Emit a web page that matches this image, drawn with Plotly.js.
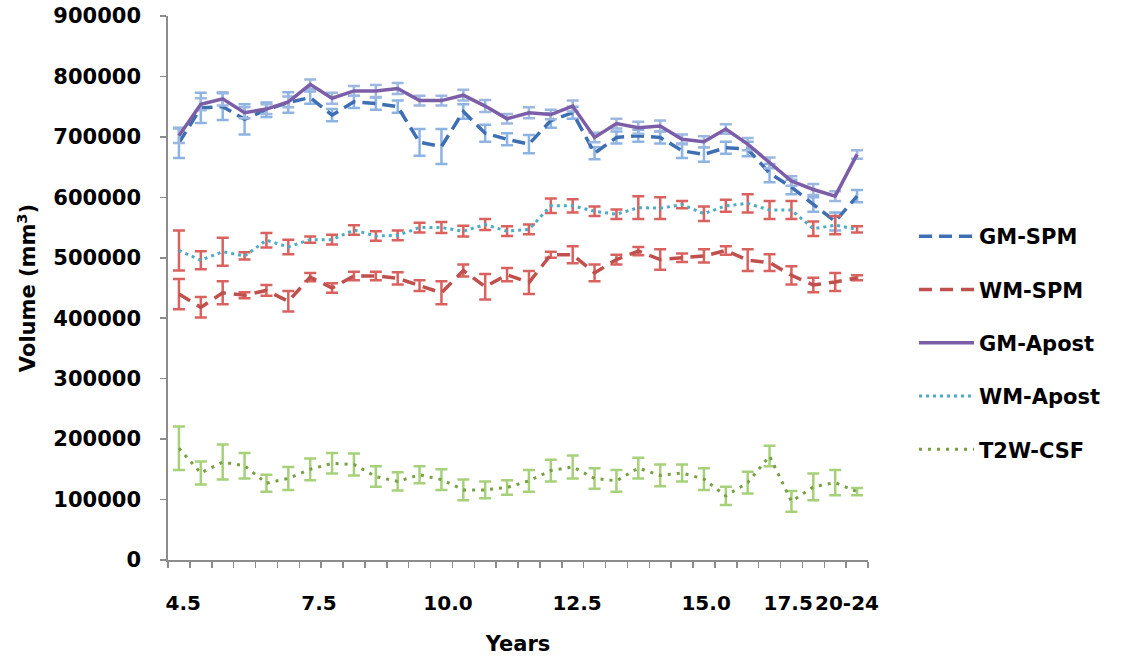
<!DOCTYPE html>
<html>
<head>
<meta charset="utf-8">
<script src="https://cdn.plot.ly/plotly-3.0.1.min.js"></script>
<style>
  html, body { margin: 0; padding: 0; background: #ffffff; }
  #chart { width: 1127px; height: 661px; }
</style>
</head>
<body>
<div id="chart"></div>
<script>
// ---- data (values in mm^3) ----
const pointIndex = [0,1,2,3,4,5,6,7,8,9,10,11,12,13,14,15,16,17,18,19,20,21,22,23,24,25,26,27,28,29,30,31];
const tickLabels = ["4.5", "7.5", "10.0", "12.5", "15.0", "17.5", "20-24"];
const tickPositions = [0.2, 6.4, 12.3, 18.2, 24.1, 27.85, 30.54];
const yTickValues = [0,100000,200000,300000,400000,500000,600000,700000,800000,900000];
const yTickLabels = ["0","100000","200000","300000","400000","500000","600000","700000","800000","900000"];

const gmSpm = [690000,748000,750000,729000,745000,757000,765000,736000,758000,755000,750000,691000,684000,742000,706000,696000,688000,727000,740000,673000,699000,702000,699000,677000,671000,682000,680000,640000,617000,588000,560000,602000];
const gmSpmErr = [25000,25000,22000,25000,12000,17000,10000,10000,10000,10000,10000,22000,29000,12000,14000,10000,15000,12000,10000,10000,10000,10000,10000,12000,12000,10000,12000,15000,12000,12000,15000,10000];

const wmSpm = [440000,418000,442000,438000,446000,428000,468000,450000,470000,470000,466000,454000,442000,479000,452000,472000,459000,505000,505000,475000,497000,511000,497000,500000,503000,512000,496000,492000,471000,455000,460000,467000];
const wmSpmErr = [25000,17000,19000,5000,9000,17000,7000,8000,7000,7000,10000,9000,19000,10000,21000,11000,19000,5000,14000,14000,8000,7000,17000,7000,11000,7000,18000,14000,15000,12000,15000,4000];

const gmApost = [702000,754000,763000,740000,746000,758000,787000,764000,776000,776000,780000,760000,760000,769000,751000,730000,740000,737000,751000,699000,722000,715000,718000,696000,692000,713000,688000,657000,627000,613000,602000,671000];
const gmApostErr = [12000,10000,11000,9000,8000,9000,8000,9000,8000,10000,9000,8000,8000,9000,10000,8000,9000,8000,9000,8000,8000,10000,9000,8000,9000,8000,10000,9000,8000,9000,8000,7000];

const wmApost = [512000,496000,510000,503000,529000,518000,530000,530000,546000,536000,537000,550000,550000,544000,555000,544000,547000,586000,586000,577000,572000,583000,582000,588000,573000,586000,590000,579000,579000,548000,554000,547000];
const wmApostErr = [33000,15000,23000,6000,12000,12000,5000,8000,8000,8000,8000,8000,9000,9000,9000,8000,8000,12000,11000,8000,8000,19000,18000,6000,12000,10000,15000,15000,15000,12000,15000,5000];

const t2wCsf = [185000,144000,162000,156000,127000,135000,150000,160000,158000,138000,130000,141000,133000,116000,116000,120000,131000,148000,154000,135000,131000,152000,140000,144000,134000,106000,128000,172000,97000,121000,128000,113000];
const t2wCsfErr = [36000,19000,29000,21000,14000,19000,18000,17000,18000,17000,15000,14000,17000,17000,14000,12000,18000,18000,19000,17000,18000,17000,18000,14000,18000,15000,18000,17000,17000,22000,21000,6000];

const seriesNames = ["GM-SPM", "WM-SPM", "GM-Apost", "WM-Apost", "T2W-CSF"];

// ---- styles ----
const FONT = "DejaVu Sans, Verdana, sans-serif";
const AXIS_GREY = "#8C8C8C";
const txtFont = { family: FONT, size: 21, color: "#000000", weight: "bold" };
const xTickFont = { family: FONT, size: 20, color: "#000000", weight: "bold" };

function makeTrace(name, y, err, lineColor, dash, width, errColor) {
  return {
    type: "scatter",
    mode: "lines",
    name: name,
    legendgroup: name,
    x: pointIndex,
    y: y,
    xaxis: "x",
    yaxis: "y",
    line: { color: lineColor, dash: dash, width: width },
    error_y: { type: "data", array: err, visible: true, color: errColor, thickness: 2.5, width: 6 },
    hoverinfo: "x+y"
  };
}

const boundaries = pointIndex.map(i => i - 0.5).concat([pointIndex[pointIndex.length - 1] + 0.5]);
const xRange = [boundaries[0], boundaries[boundaries.length - 1]];
const yRange = [0, 900000];

const traces = [
  makeTrace(seriesNames[0], gmSpm, gmSpmErr, "#3F6FB3", "13px,7px", 3.5, "#8DB3E2"),
  makeTrace(seriesNames[1], wmSpm, wmSpmErr, "#C0504D", "13px,8px", 3.5, "#D9625F"),
  makeTrace(seriesNames[2], gmApost, gmApostErr, "#7B5EA7", "solid", 3.5, "#9DB8E0"),
  makeTrace(seriesNames[3], wmApost, wmApostErr, "#4BACC6", "3px,4px", 3, "#D9625F"),
  makeTrace(seriesNames[4], t2wCsf, t2wCsfErr, "#77A043", "3px,6px", 3, "#A6D17A")
];

const layout = {
  width: 1127,
  height: 661,
  margin: { l: 141, r: 259, t: 16, b: 72, pad: 0 },
  paper_bgcolor: "#ffffff",
  plot_bgcolor: "#ffffff",
  font: txtFont,
  showlegend: true,
  legend: {
    x: 1.0633, xanchor: "left",
    y: 0.651, yanchor: "top",
    traceorder: "grouped",
    tracegroupgap: 23,
    itemwidth: 55,
    font: txtFont,
    bgcolor: "rgba(0,0,0,0)"
  },
  // axis carrying the line and the category tick marks
  xaxis: {
    domain: [0.03714, 1],
    anchor: "y",
    range: xRange,
    tickmode: "array",
    tickvals: boundaries,
    ticks: "outside",
    ticklen: 6,
    tickwidth: 1.5,
    tickcolor: AXIS_GREY,
    showticklabels: false,
    showgrid: false,
    zeroline: false,
    showline: true,
    linecolor: AXIS_GREY,
    linewidth: 2,
    automargin: false,
    fixedrange: true
  },
  // axis carrying the year labels and title, set lower
  xaxis2: {
    overlaying: "x",
    anchor: "free",
    position: 0,
    side: "bottom",
    range: xRange,
    tickmode: "array",
    tickvals: tickPositions,
    ticktext: tickLabels,
    tickangle: 0,
    ticks: "",
    showline: false,
    showgrid: false,
    zeroline: false,
    tickfont: xTickFont,
    title: { text: "Years", font: txtFont, standoff: 22 },
    automargin: false,
    fixedrange: true
  },
  yaxis: {
    domain: [0.0506, 1],
    anchor: "x",
    range: yRange,
    tickmode: "array",
    tickvals: yTickValues,
    ticks: "outside",
    ticklen: 6,
    tickwidth: 1.5,
    tickcolor: AXIS_GREY,
    showticklabels: false,
    showgrid: false,
    zeroline: false,
    showline: true,
    linecolor: AXIS_GREY,
    linewidth: 2,
    automargin: false,
    fixedrange: true
  },
  yaxis2: {
    overlaying: "y",
    anchor: "free",
    position: 0,
    side: "left",
    range: yRange,
    tickmode: "array",
    tickvals: yTickValues,
    ticktext: yTickLabels,
    ticks: "",
    showline: false,
    showgrid: false,
    zeroline: false,
    tickfont: txtFont,
    title: { text: "Volume (mm<sup>3</sup>)", font: txtFont, standoff: 10 },
    automargin: false,
    fixedrange: true
  }
};

// invisible helper trace so the label axes are drawn
traces.push({ type: "scatter", mode: "none", x: xRange, y: yRange, xaxis: "x2", yaxis: "y2", showlegend: false, hoverinfo: "skip" });

Plotly.newPlot("chart", traces, layout, { displayModeBar: false, staticPlot: true });
</script>
</body>
</html>
